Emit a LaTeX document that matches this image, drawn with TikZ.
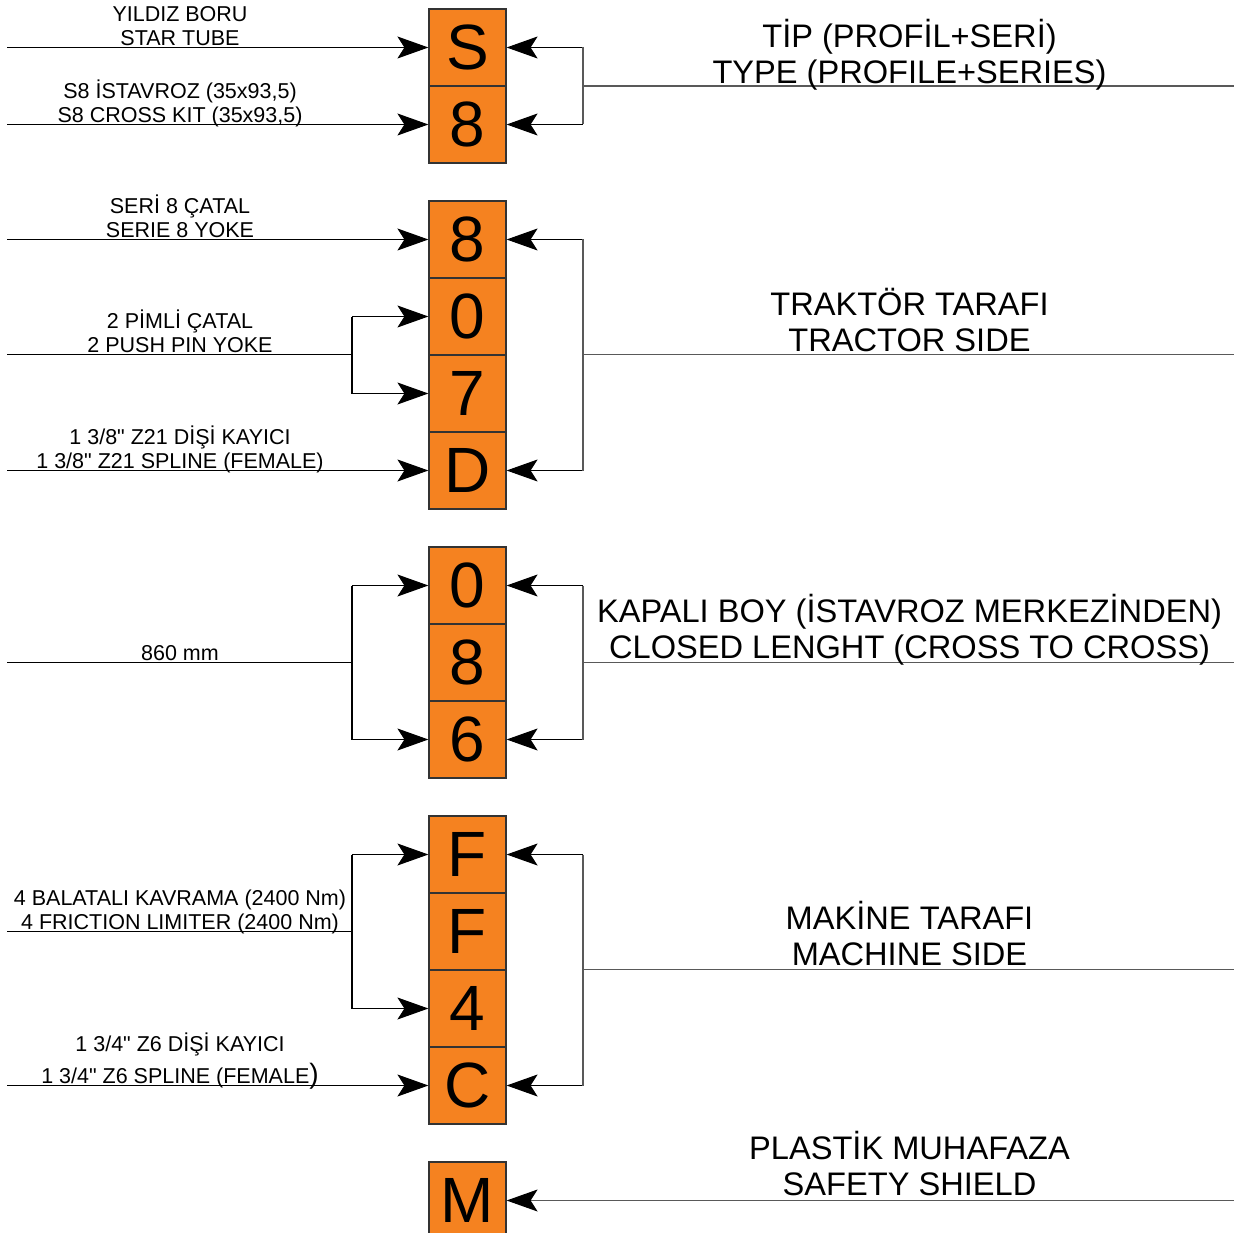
\documentclass[tikz,border=0pt]{standalone}
\usepackage{fontspec}
\setmainfont{Liberation Sans}[Ligatures=TeXOff]
\usetikzlibrary{arrows.meta}
\definecolor{boxorange}{RGB}{245,130,32}

\begin{document}
\begin{tikzpicture}[
    x=1pt, y=-1pt,
    cell/.style={rectangle, draw=black!80, line width=1.2pt, fill=boxorange, minimum width=77pt, minimum height=77pt, inner sep=0pt, font=\fontsize{64}{64}\selectfont},
    arrow/.style={-{Stealth[length=31pt, width=22pt, inset=7pt, color=black]}, line width=1.1pt},
    wire/.style={line width=1.1pt},
    side wire/.style={line width=1.2pt, draw=black!65},
    left label/.style={anchor=south, align=center, inner sep=0pt, text depth=0pt, font=\fontsize{21.5}{24.5}\selectfont},
    right label/.style={anchor=south, align=center, inner sep=0pt, text depth=0pt, font=\fontsize{32.6}{36.5}\selectfont}
  ]
  \useasboundingbox (0,0) rectangle (1234,1233);

  % Type (profile + series)
  \foreach \t [count=\i] in {S,8}
    \node[cell] (tip-\i) at (467.5,{47.5+77*(\i-1)}) {\t};
  \coordinate (tip-in-1) at (7,47.5);
  \coordinate (tip-in-2) at (7,124.5);
  \coordinate (tip-r-1) at (583,47.5);
  \coordinate (tip-r-2) at (583,124.5);
  \coordinate (tip-m) at (583,86);
  \coordinate (tip-e) at (1234,86);
  \foreach \i in {1,2} {
    \draw[arrow] (tip-in-\i) -- (tip-\i);
    \draw[arrow] (tip-r-\i) -- (tip-\i);
  }
  \draw[side wire] (tip-r-1) -- (tip-r-2);
  \draw[side wire] (tip-m) -- (tip-e);
  \node[left label] (tip-lab-1) at (180,46) {YILDIZ BORU\\STAR TUBE};
  \node[left label] (tip-lab-2) at (180,123) {S8 İSTAVROZ (35x93,5)\\S8 CROSS KIT (35x93,5)};
  \node[right label] (tip-lab) at (909.5,84) {TİP (PROFİL+SERİ)\\TYPE (PROFILE+SERIES)};

  % Tractor side
  \foreach \t [count=\i] in {8,0,7,D}
    \node[cell] (tr-\i) at (467.5,{239.5+77*(\i-1)}) {\t};
  \coordinate (tr-in-1) at (7,239.5);
  \coordinate (tr-in-4) at (7,470.5);
  \coordinate (tr-pin-a) at (7,354.5);
  \coordinate (tr-pin-b) at (352,354.5);
  \coordinate (tr-pin-2) at (352,316.5);
  \coordinate (tr-pin-3) at (352,393.5);
  \coordinate (tr-r-1) at (583,239.5);
  \coordinate (tr-r-4) at (583,470.5);
  \coordinate (tr-m) at (583,354.5);
  \coordinate (tr-e) at (1234,354.5);
  \foreach \i in {1,4} {
    \draw[arrow] (tr-in-\i) -- (tr-\i);
    \draw[arrow] (tr-r-\i) -- (tr-\i);
  }
  \foreach \i in {2,3}
    \draw[arrow] (tr-pin-\i) -- (tr-\i);
  \draw[wire] (tr-pin-a) -- (tr-pin-b);
  \draw[wire] (tr-pin-2) -- (tr-pin-3);
  \draw[side wire] (tr-r-1) -- (tr-r-4);
  \draw[side wire] (tr-m) -- (tr-e);
  \node[left label] (tr-lab-1) at (180,238) {SERİ 8 ÇATAL\\SERIE 8 YOKE};
  \node[left label] (tr-lab-2) at (180,353) {2 PİMLİ ÇATAL\\2 PUSH PIN YOKE};
  \node[left label] (tr-lab-3) at (180,469) {1 3/8" Z21 DİŞİ KAYICI\\1 3/8" Z21 SPLINE (FEMALE)};
  \node[right label] (tr-lab) at (909.5,352) {TRAKTÖR TARAFI\\TRACTOR SIDE};

  % Closed length
  \foreach \t [count=\i] in {0,8,6}
    \node[cell] (len-\i) at (467.5,{585.5+77*(\i-1)}) {\t};
  \coordinate (len-in-a) at (7,662.5);
  \coordinate (len-in-b) at (352,662.5);
  \coordinate (len-l-1) at (352,585.5);
  \coordinate (len-l-3) at (352,739.5);
  \coordinate (len-r-1) at (583,585.5);
  \coordinate (len-r-3) at (583,739.5);
  \coordinate (len-m) at (583,662.5);
  \coordinate (len-e) at (1234,662.5);
  \foreach \i in {1,3} {
    \draw[arrow] (len-l-\i) -- (len-\i);
    \draw[arrow] (len-r-\i) -- (len-\i);
  }
  \draw[wire] (len-in-a) -- (len-in-b);
  \draw[wire] (len-l-1) -- (len-l-3);
  \draw[side wire] (len-r-1) -- (len-r-3);
  \draw[side wire] (len-m) -- (len-e);
  \node[left label] (len-lab-1) at (180,661) {860 mm};
  \node[right label] (len-lab) at (909.5,659) {KAPALI BOY (İSTAVROZ MERKEZİNDEN)\\CLOSED LENGHT (CROSS TO CROSS)};

  % Machine side
  \foreach \t [count=\i] in {F,F,4,C}
    \node[cell] (mk-\i) at (467.5,{854.5+77*(\i-1)}) {\t};
  \coordinate (mk-in-a) at (7,931.5);
  \coordinate (mk-in-b) at (352,931.5);
  \coordinate (mk-l-1) at (352,854.5);
  \coordinate (mk-l-3) at (352,1008.5);
  \coordinate (mk-in-4) at (7,1085.5);
  \coordinate (mk-r-1) at (583,854.5);
  \coordinate (mk-r-4) at (583,1085.5);
  \coordinate (mk-m) at (583,969.5);
  \coordinate (mk-e) at (1234,969.5);
  \foreach \i in {1,3}
    \draw[arrow] (mk-l-\i) -- (mk-\i);
  \foreach \i in {1,4}
    \draw[arrow] (mk-r-\i) -- (mk-\i);
  \draw[arrow] (mk-in-4) -- (mk-4);
  \draw[wire] (mk-in-a) -- (mk-in-b);
  \draw[wire] (mk-l-1) -- (mk-l-3);
  \draw[side wire] (mk-r-1) -- (mk-r-4);
  \draw[side wire] (mk-m) -- (mk-e);
  \node[left label] (mk-lab-1) at (180,930) {4 BALATALI KAVRAMA (2400 Nm)\\4 FRICTION LIMITER (2400 Nm)};
  \node[left label] (mk-lab-2) at (180,1083.5) {1 3/4" Z6 DİŞİ KAYICI\\[5.5pt]1 3/4" Z6 SPLINE (FEMALE{\fontsize{28}{28}\selectfont)}};
  \node[right label] (mk-lab) at (909.5,966) {MAKİNE TARAFI\\MACHINE SIDE};

  % Safety shield
  \node[cell] (sh) at (467.5,1200.5) {M};
  \coordinate (sh-e) at (1234,1200.5);
  \draw[arrow, draw=black!65] (sh-e) -- (sh);
  \node[right label] (sh-lab) at (909.5,1196) {PLASTİK MUHAFAZA\\SAFETY SHIELD};

\end{tikzpicture}
\end{document}
